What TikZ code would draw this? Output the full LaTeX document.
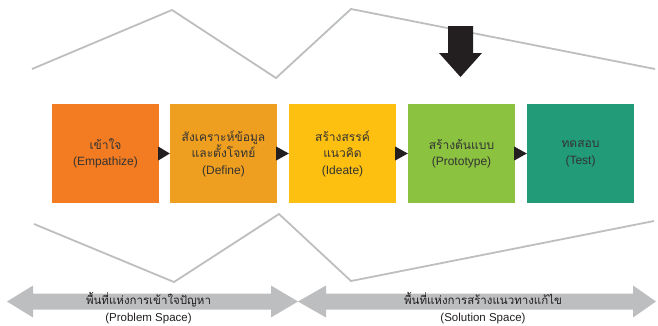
\documentclass[tikz,border=0pt]{standalone}
\usepackage{fontspec}
\setmainfont{Liberation Sans}
\newfontfamily\thaifont[Script=Thai]{Loma}
\definecolor{cEmp}{HTML}{F37B21}
\definecolor{cDef}{HTML}{EF9F20}
\definecolor{cIde}{HTML}{FDC010}
\definecolor{cPro}{HTML}{8BC240}
\definecolor{cTes}{HTML}{219B78}
\definecolor{cGray}{HTML}{BCBEC0}
\definecolor{cDark}{HTML}{231F20}
\definecolor{cText}{HTML}{333333}
\tikzset{
  stagebox/.style={rectangle, minimum width=107pt, minimum height=99pt, inner sep=0pt,
    align=center, text=cText, font=\fontsize{12}{16.5}\selectfont},
  zigline/.style={draw=cGray, line width=1.8pt, line join=miter},
  linktri/.style={fill=cDark},
  spacelabel/.style={align=center, text=cDark, font=\fontsize{11.5}{17}\selectfont, inner sep=0pt}
}
\begin{document}
\begin{tikzpicture}[x=1pt,y=-1pt]
\useasboundingbox (0,0) rectangle (658,325);
% zigzag lines
\draw[zigline] (32,69) -- (172,10) -- (276,78) -- (351,9) -- (655,69);
\draw[zigline] (34,224) -- (174,282) -- (279,214) -- (351,281) -- (654,221);
% big down arrow
\fill[cDark] (448,26) -- (473,26) -- (473,53) -- (482,53) -- (460.5,77) -- (439,53) -- (448,53) -- cycle;
% stage boxes
\node[stagebox, fill=cEmp] (b1) at (105.5,153.5) {{\thaifont เข้าใจ}\\(Empathize)};
\node[stagebox, fill=cDef] (b2) at (223.5,153.5) {{\thaifont สังเคราะห์ข้อมูล}\\{\thaifont และตั้งโจทย์}\\(Define)};
\node[stagebox, fill=cIde] (b3) at (342.5,153.5) {{\thaifont สร้างสรรค์}\\{\thaifont แนวคิด}\\(Ideate)};
\node[stagebox, fill=cPro] (b4) at (461.5,153.5) {{\thaifont สร้างต้นแบบ}\\(Prototype)};
\node[stagebox, fill=cTes] (b5) at (580.5,153.5) {{\thaifont ทดสอบ}\\(Test)};
% link triangles
\foreach \a/\b in {b1/b2, b2/b3, b3/b4, b4/b5}{
  \fill[linktri] ([xshift=-1pt,yshift=7pt]\a.east) -- (\b.west) -- ([xshift=-1pt,yshift=-7pt]\a.east) -- cycle;
}
% space arrows
\coordinate (lt) at (7,301.5);
\coordinate (mid) at (298,301.5);
\coordinate (rt) at (656,301.5);
\fill[cGray] (lt) -- (33,285.5) -- (33,293.5) -- (271,293.5) -- (271,285.5) -- (mid)
  -- (271,317.5) -- (271,309.5) -- (33,309.5) -- (33,317.5) -- cycle;
\fill[cGray] (mid) -- (326,285.5) -- (326,293.5) -- (633,293.5) -- (633,285.5) -- (rt)
  -- (633,317.5) -- (633,309.5) -- (326,309.5) -- (326,317.5) -- cycle;
\node[spacelabel] (ps) at (148.5,308) {{\thaifont พื้นที่แห่งการเข้าใจปัญหา}\\(Problem Space)};
\node[spacelabel] (ss) at (483,308) {{\thaifont พื้นที่แห่งการสร้างแนวทางแก้ไข}\\(Solution Space)};
\end{tikzpicture}
\end{document}
